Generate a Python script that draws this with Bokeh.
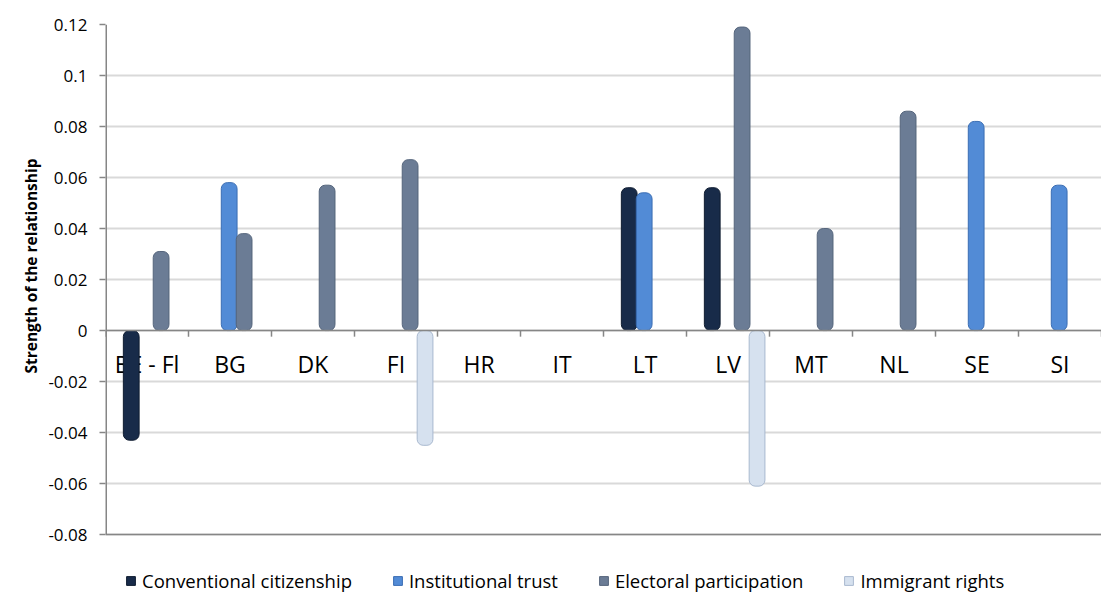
from bokeh.plotting import figure
from bokeh.models import (ColumnDataSource, FixedTicker, Legend, LegendItem, Range1d, Span, Title)
from bokeh.core.properties import value
from bokeh.transform import dodge
from bokeh.embed import file_html
from bokeh.resources import INLINE

nan = float("nan")

categories = ["BE - Fl", "BG", "DK", "FI", "HR", "IT", "LT", "LV", "MT", "NL", "SE", "SI"]
conventional_citizenship = [-0.043, nan, nan, nan, nan, nan, 0.056, 0.056, nan, nan, nan, nan]
institutional_trust = [nan, 0.058, nan, nan, nan, nan, 0.054, nan, nan, nan, 0.082, 0.057]
electoral_participation = [0.031, 0.038, 0.057, 0.067, nan, nan, nan, 0.119, 0.040, 0.086, nan, nan]
immigrant_rights = [nan, nan, nan, -0.045, nan, nan, nan, -0.061, nan, nan, nan, nan]

series_labels = ["Conventional citizenship", "Institutional trust",
                 "Electoral participation", "Immigrant rights"]
y_ticks = [-0.08, -0.06, -0.04, -0.02, 0, 0.02, 0.04, 0.06, 0.08, 0.1, 0.12]
y_tick_labels = ["-0.08", "-0.06", "-0.04", "-0.02", "0", "0.02", "0.04", "0.06", "0.08", "0.1", "0.12"]
y_title = "Strength of the relationship"

FONT = "Open Sans"
AXIS_GRAY = "#868686"
LEGEND_BAND = 0.0231  # room under the lowest gridline for the legend

source = ColumnDataSource(data=dict(
    cat=categories,
    conv=conventional_citizenship,
    inst=institutional_trust,
    elec=electoral_participation,
    immig=immigrant_rights,
    zero=[0] * len(categories),
))

p = figure(width=1101, height=593, x_range=categories,
           y_range=Range1d(y_ticks[0] - LEGEND_BAND, y_ticks[-1]),
           output_backend="svg", toolbar_location=None,
           min_border_left=105, min_border_top=24, min_border_right=0, min_border_bottom=0)
p.outline_line_color = None
p.background_fill_color = "white"
p.border_fill_color = "white"

# grid
p.xgrid.grid_line_color = None
p.ygrid.ticker = FixedTicker(ticks=y_ticks)
p.ygrid.grid_line_color = "#d9d9d9"
p.ygrid.grid_line_width = 2

# y axis (line drawn separately so that it stops at the lowest gridline)
p.yaxis.ticker = FixedTicker(ticks=y_ticks)
p.yaxis.major_label_overrides = dict(zip(y_ticks, y_tick_labels))
p.yaxis.axis_line_color = None
p.yaxis.major_tick_line_color = AXIS_GRAY
p.yaxis.major_tick_line_width = 1.5
p.yaxis.major_tick_out = 6
p.yaxis.major_tick_in = 0
p.yaxis.minor_tick_line_color = None
p.yaxis.major_label_text_font = FONT
p.yaxis.major_label_text_font_size = "17px"
p.yaxis.major_label_text_color = "black"
p.yaxis.major_label_standoff = 12

p.add_layout(Title(text=y_title, text_font=FONT, text_font_size="15.5px",
                   text_font_style="bold", text_color="black",
                   align="right", vertical_align="top", offset=134, standoff=4), "left")

p.xaxis.visible = False

# left axis line, zero line and bottom frame line
p.segment(x0=[(categories[0], -0.5)], x1=[(categories[0], -0.5)],
          y0=[y_ticks[0]], y1=[y_ticks[-1]], line_color=AXIS_GRAY, line_width=3)
p.add_layout(Span(location=0, dimension="width", line_color=AXIS_GRAY, line_width=1.5))
p.add_layout(Span(location=y_ticks[0], dimension="width", line_color=AXIS_GRAY, line_width=1.5))

# category boundary ticks on the zero axis
bx = [(c, -0.5) for c in categories] + [(categories[-1], 0.5)]
p.segment(x0=bx, x1=bx, y0=[0] * len(bx), y1=[-0.0024] * len(bx),
          line_color=AXIS_GRAY, line_width=1.5)

# category labels just below the zero axis
p.text(x="cat", y="zero", text="cat", source=source, text_font=value(FONT),
       text_font_size="23px", text_color="black", text_align="center",
       text_baseline="alphabetic", y_offset=33)

specs = [
    ("conv", -0.19, "#182b49", "#0f1c30"),
    ("inst", -0.01, "#528bd6", "#3a6db3"),
    ("elec", 0.17, "#6b7c95", "#55657c"),
    ("immig", 0.35, "#d6e1ef", "#a9b9cf"),
]
renderers = []
for key, off, fill, line in specs:
    r = p.vbar(x=dodge("cat", off, range=p.x_range), top=key, bottom=0, width=0.19,
               source=source, fill_color=fill, line_color=line, line_width=1,
               border_radius=6)
    renderers.append(r)

legend = Legend(items=[LegendItem(label=lab, renderers=[r]) for lab, r in zip(series_labels, renderers)],
                orientation="horizontal", location=(20, 0), spacing=40,
                glyph_width=11, glyph_height=11, label_standoff=6,
                label_text_font=FONT, label_text_font_size="18.5px",
                label_text_color="black", border_line_color=None,
                background_fill_alpha=0, padding=0, margin=0)
p.add_layout(legend, "center")

open("out.html", "w").write(file_html(p, INLINE))
